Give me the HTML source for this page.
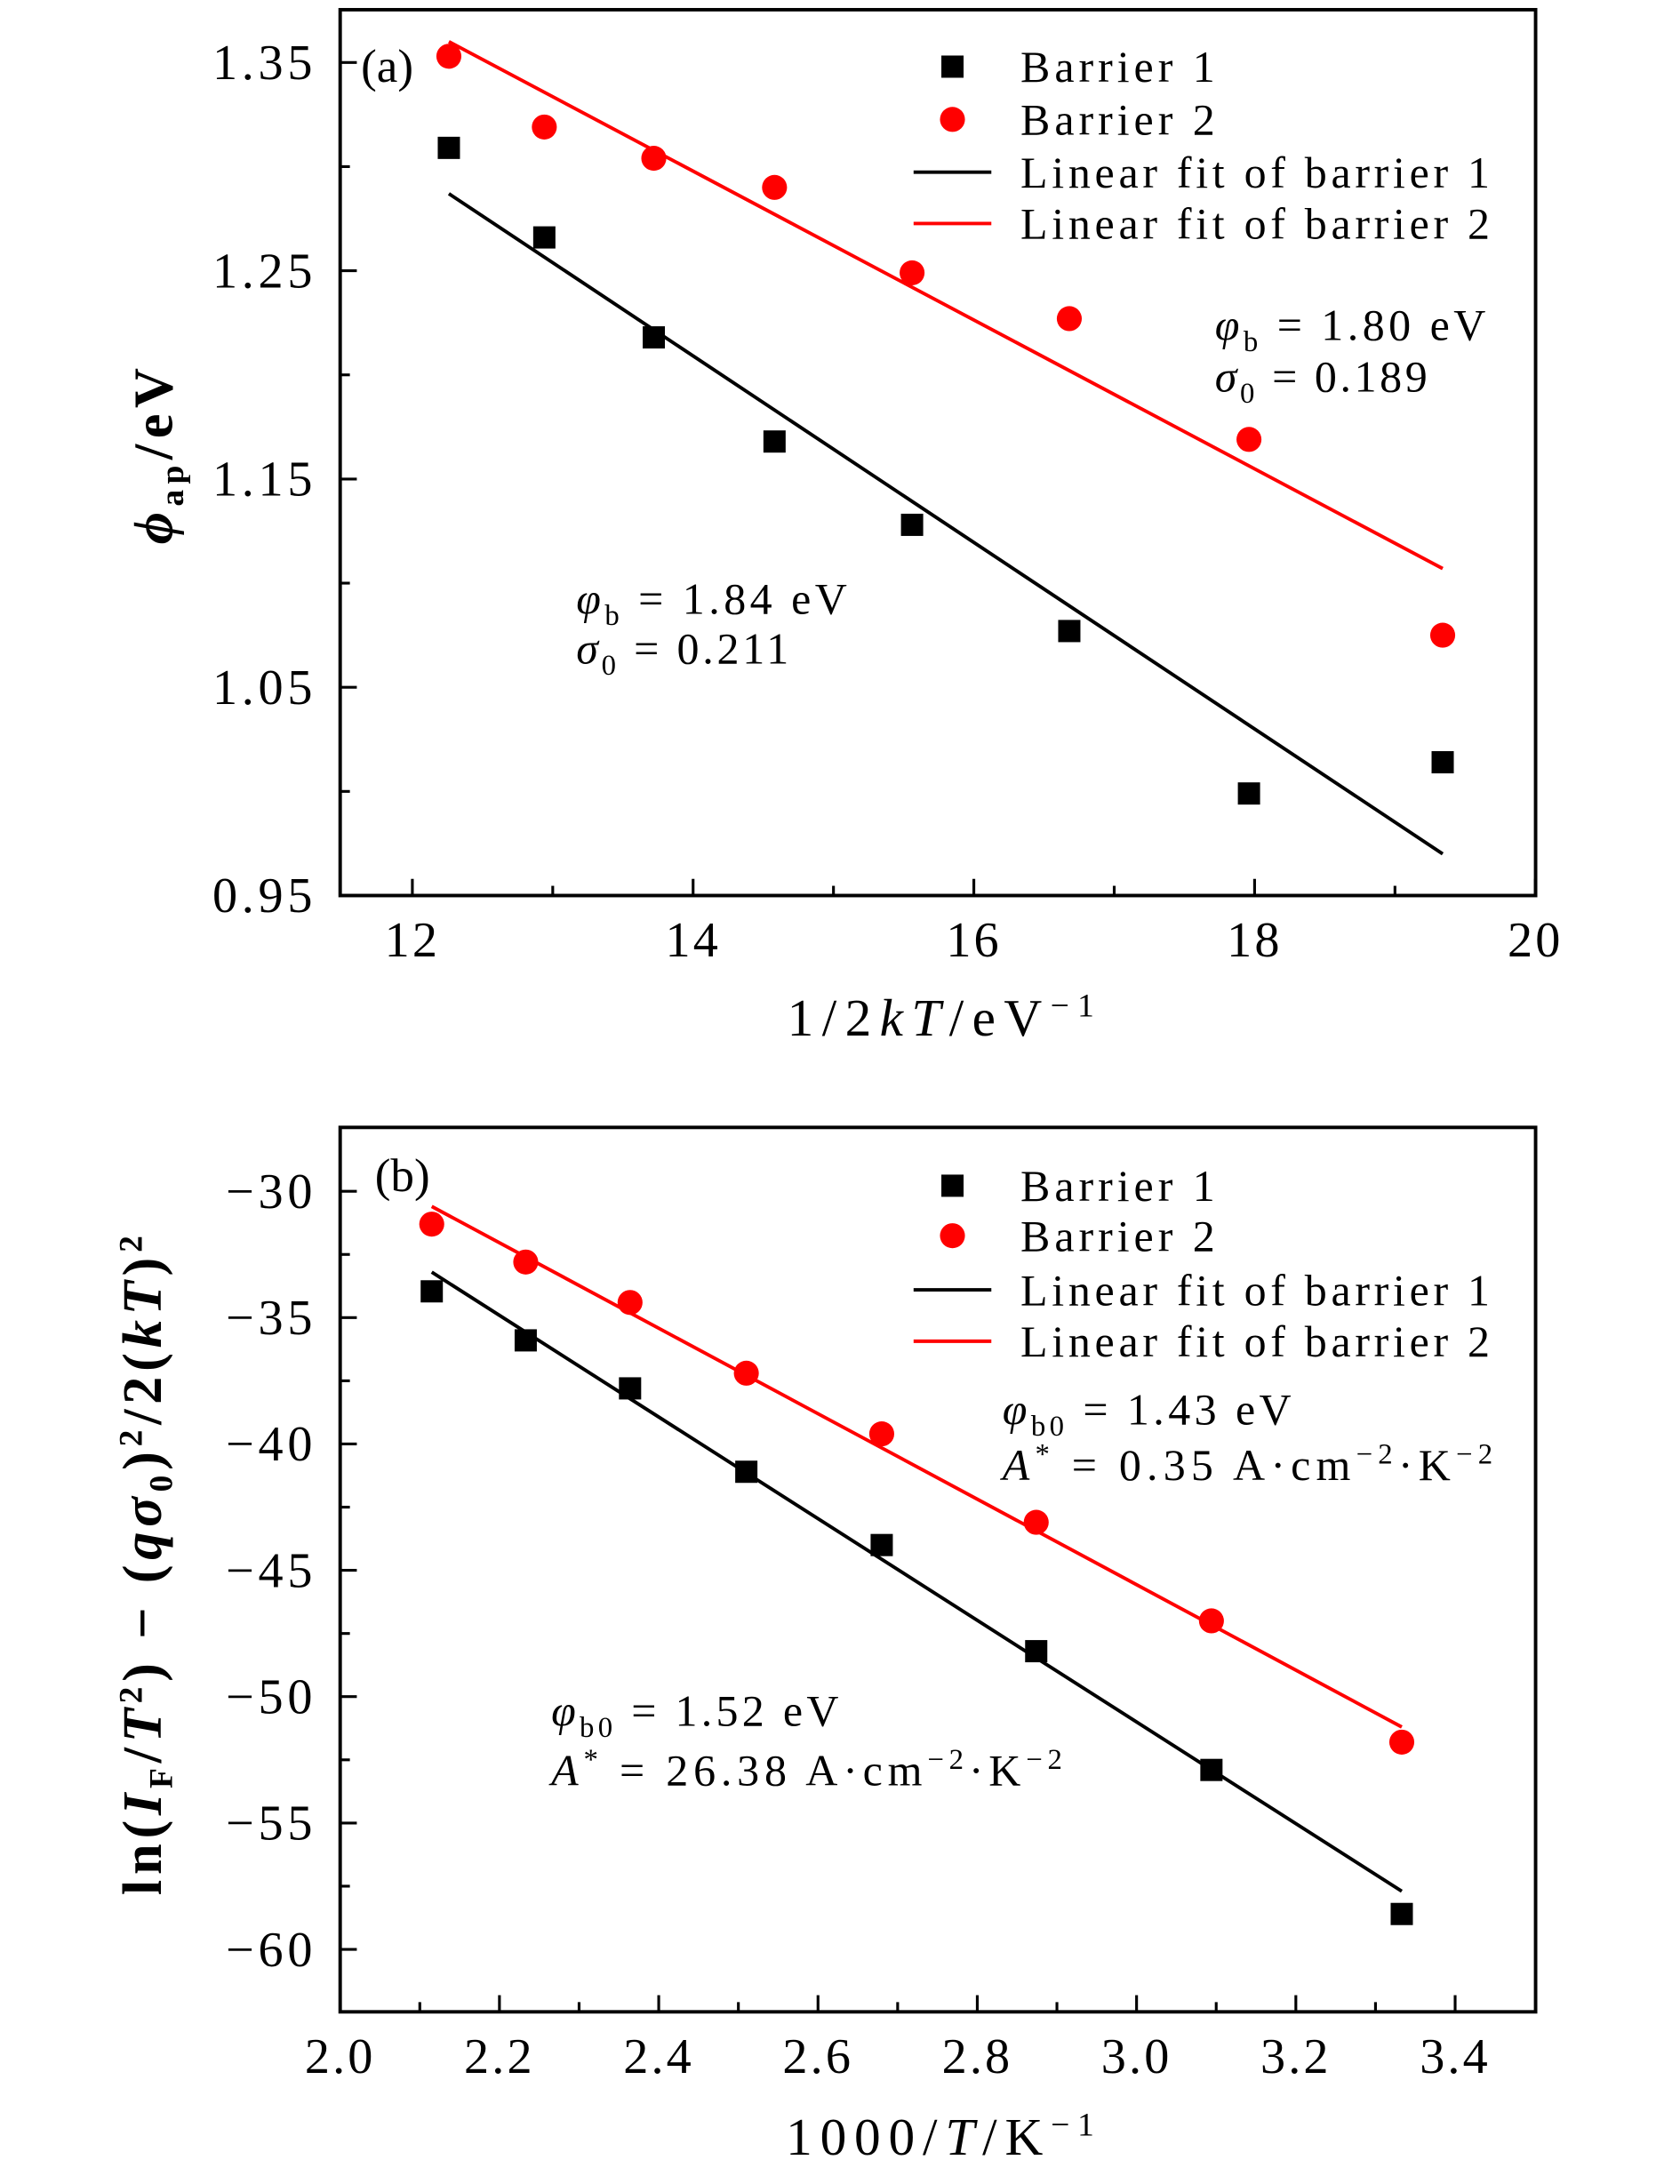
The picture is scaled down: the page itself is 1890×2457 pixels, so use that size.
<!DOCTYPE html>
<html><head><meta charset="utf-8"><style>
html,body{margin:0;padding:0;background:#fff;}
svg{display:block;}
text{font-family:"Liberation Serif","DejaVu Serif",serif;fill:#000;}
</style></head><body>
<svg id="fig" width="1890" height="2457" viewBox="0 0 1210 1573" xmlns="http://www.w3.org/2000/svg"></svg>
<script>
// ---- Panel (a) data ----
const aX = [12.26, 12.94, 13.72, 14.58, 15.56, 16.68, 17.96, 19.34];
const aB1 = [1.309, 1.266, 1.218, 1.168, 1.128, 1.077, 0.999, 1.014];
const aB2 = [1.353, 1.319, 1.304, 1.290, 1.249, 1.227, 1.169, 1.075];
const aFitX = [12.26, 19.34];
const aFit1 = [1.287, 0.970];
const aFit2 = [1.360, 1.107];
const aXTicks = [12, 14, 16, 18, 20];
const aXLabels = ["12", "14", "16", "18", "20"];
const aYTicks = [0.95, 1.05, 1.15, 1.25, 1.35];
const aYLabels = ["0.95", "1.05", "1.15", "1.25", "1.35"];
// ---- Panel (b) data ----
const bX = [2.115, 2.233, 2.364, 2.51, 2.68, 2.874, 3.094, 3.333];
const bB1 = [-33.96, -35.9, -37.8, -41.1, -44.0, -48.2, -52.9, -58.6];
const bB2 = [-31.3, -32.8, -34.4, -37.2, -39.6, -43.1, -47.0, -51.8];
const bFitX = [2.115, 3.333];
const bFit1 = [-33.2, -57.7];
const bFit2 = [-30.6, -51.2];
const bXTicks = [2.0, 2.2, 2.4, 2.6, 2.8, 3.0, 3.2, 3.4];
const bXLabels = ["2.0", "2.2", "2.4", "2.6", "2.8", "3.0", "3.2", "3.4"];
const bYTicks = [-30, -35, -40, -45, -50, -55, -60];
const bYLabels = ["\u221230", "\u221235", "\u221240", "\u221245", "\u221250", "\u221255", "\u221260"];

const NS = "http://www.w3.org/2000/svg";
const svg = document.getElementById("fig");
function el(tag, attrs, parent) {
  const e = document.createElementNS(NS, tag);
  for (const k in attrs) e.setAttribute(k, attrs[k]);
  (parent || svg).appendChild(e);
  return e;
}

function panel(cfg) {
  const g = el("g", {});
  
  
  const L = 245, R = 1106, T = cfg.top, B = cfg.bottom;
  const sx = v => cfg.x0px + (v - cfg.x0) * cfg.xs;
  const sy = v => cfg.y0px - (v - cfg.y0) * cfg.ys;
  const frame = el("rect", {x: L, y: T, width: R - L, height: B - T, fill: "none", stroke: "#000", "stroke-width": 2.5}, g);
  
  
  cfg.xTicks.forEach((v, i) => {
    const x = sx(v);
    el("line", {x1: x, y1: B, x2: x, y2: B - 12, stroke: "#000", "stroke-width": 2}, g);
    const t = el("text", {x: x, y: B + 44, "text-anchor": "middle", "font-size": 36, "letter-spacing": 2}, g);
    t.textContent = cfg.xLabels[i];
    
    
    if (i < cfg.xTicks.length - 1) {
      const m = sx((v + cfg.xTicks[i + 1]) / 2);
      el("line", {x1: m, y1: B, x2: m, y2: B - 7, stroke: "#000", "stroke-width": 2}, g);
    }
  });
  cfg.yTicks.forEach((v, i) => {
    const y = sy(v);
    el("line", {x1: L, y1: y, x2: L + 12, y2: y, stroke: "#000", "stroke-width": 2}, g);
    const t = el("text", {x: L - 17, y: y + 12, "text-anchor": "end", "font-size": 36, "letter-spacing": 3}, g);
    t.textContent = cfg.yLabels[i];
    
    
    if (i < cfg.yTicks.length - 1) {
      const m = sy((v + cfg.yTicks[i + 1]) / 2);
      el("line", {x1: L, y1: m, x2: L + 7, y2: m, stroke: "#000", "stroke-width": 2}, g);
    }
  });
  const f1 = el("line", {x1: sx(cfg.fitX[0]), y1: sy(cfg.fit1[0]), x2: sx(cfg.fitX[1]), y2: sy(cfg.fit1[1]), stroke: "#000", "stroke-width": 2.5}, g);
  
  
  const f2 = el("line", {x1: sx(cfg.fitX[0]), y1: sy(cfg.fit2[0]), x2: sx(cfg.fitX[1]), y2: sy(cfg.fit2[1]), stroke: "#f00", "stroke-width": 2.5}, g);
  
  
  cfg.xs_.forEach((v, i) => {
    const s = el("rect", {x: sx(v) - 8, y: sy(cfg.b1[i]) - 8, width: 16, height: 16, fill: "#000"}, g);
    
    
    const c = el("circle", {cx: sx(v), cy: sy(cfg.b2[i]), r: 9, fill: "#f00"}, g);
    
    
  });
  const lg = el("g", {}, g);
  
  
  const ly = cfg.legY;
  el("rect", {x: 678, y: ly[0] - 8, width: 16, height: 16, fill: "#000"}, lg);
  el("circle", {cx: 686, cy: ly[1], r: 9, fill: "#f00"}, lg);
  el("line", {x1: 658, y1: ly[2], x2: 714, y2: ly[2], stroke: "#000", "stroke-width": 2.5}, lg);
  el("line", {x1: 658, y1: ly[3], x2: 714, y2: ly[3], stroke: "#f00", "stroke-width": 2.5}, lg);
  const legLens = [140, 140, 338, 338];
  ["Barrier 1", "Barrier 2", "Linear fit of barrier 1", "Linear fit of barrier 2"].forEach((s, i) => {
    const t = el("text", {x: 735, y: ly[i] + 11, "font-size": 32, textLength: legLens[i], lengthAdjust: "spacing"}, lg);
    t.textContent = s;
    
    
  });
  return g;
}

panel({name: "panel-a", top: 7, bottom: 645, x0: 12, x0px: 297, xs: 101.1, y0: 1.35, y0px: 45, ys: 1500,
  xTicks: aXTicks, xLabels: aXLabels, yTicks: aYTicks, yLabels: aYLabels,
  fitX: aFitX, fit1: aFit1, fit2: aFit2, xs_: aX, b1: aB1, b2: aB2, legY: [48, 86, 124, 161]});
panel({name: "panel-b", top: 812, bottom: 1449, x0: 2.0, x0px: 245, xs: 573.6, y0: -30, y0px: 858, ys: 18.2,
  xTicks: bXTicks, xLabels: bXLabels, yTicks: bYTicks, yLabels: bYLabels,
  fitX: bFitX, fit1: bFit1, fit2: bFit2, xs_: bX, b1: bB1, b2: bB2, legY: [854, 890, 929, 966]});

function txt(html, attrs, name) {
  const t = el("text", attrs);
  t.innerHTML = html;
  
  
  return t;
}
const S = 'font-size="21"';
function ann(x, y, len) { return {x: x, y: y, "font-size": 32, textLength: len, lengthAdjust: "spacing"}; }
txt('(a)', {x: 260, y: 59, "font-size": 34}, 'panel-label-a');
txt('(b)', {x: 270, y: 858, "font-size": 34}, 'panel-label-b');
txt('<tspan font-style="italic">φ</tspan><tspan '+S+' dy="8">b</tspan><tspan dy="-8"> = 1.80 eV</tspan>', ann(875, 245, 195), 'annotation-barrier-2-phi');
txt('<tspan font-style="italic">σ</tspan><tspan '+S+' dy="8">0</tspan><tspan dy="-8"> = 0.189</tspan>', ann(875, 282, 153), 'annotation-barrier-2-sigma');
txt('<tspan font-style="italic">φ</tspan><tspan '+S+' dy="8">b</tspan><tspan dy="-8"> = 1.84 eV</tspan>', ann(415, 442, 195), 'annotation-barrier-1-phi');
txt('<tspan font-style="italic">σ</tspan><tspan '+S+' dy="8">0</tspan><tspan dy="-8"> = 0.211</tspan>', ann(415, 478, 153), 'annotation-barrier-1-sigma');
txt('<tspan font-style="italic">φ</tspan><tspan '+S+' dy="8">b0</tspan><tspan dy="-8"> = 1.43 eV</tspan>', ann(722, 1026, 208), 'annotation-b-barrier-2-phi');
txt('<tspan font-style="italic">A</tspan><tspan '+S+' dy="-12">*</tspan><tspan dy="12"> = 0.35 A·cm</tspan><tspan '+S+' dy="-12">−2</tspan><tspan dy="12">·K</tspan><tspan '+S+' dy="-12">−2</tspan>', ann(722, 1066, 353), 'annotation-b-barrier-2-A');
txt('<tspan font-style="italic">φ</tspan><tspan '+S+' dy="8">b0</tspan><tspan dy="-8"> = 1.52 eV</tspan>', ann(397, 1243, 207), 'annotation-b-barrier-1-phi');
txt('<tspan font-style="italic">A</tspan><tspan '+S+' dy="-12">*</tspan><tspan dy="12"> = 26.38 A·cm</tspan><tspan '+S+' dy="-12">−2</tspan><tspan dy="12">·K</tspan><tspan '+S+' dy="-12">−2</tspan>', ann(397, 1286, 368), 'annotation-b-barrier-1-A');
txt('1/2<tspan font-style="italic">kT</tspan>/eV<tspan font-size="24" dy="-14">−1</tspan>', {x: 567, y: 746, "font-size": 38, textLength: 221, lengthAdjust: "spacing"}, 'x-axis-title-a');
txt('1000/<tspan font-style="italic">T</tspan>/K<tspan font-size="24" dy="-14">−1</tspan>', {x: 566, y: 1552, "font-size": 38, textLength: 222, lengthAdjust: "spacing"}, 'x-axis-title-b');
txt('<tspan font-style="italic">ϕ</tspan><tspan font-size="24" dy="8">ap</tspan><tspan dy="-8">/eV</tspan>', {x: 0, y: 0, "font-size": 40, "font-weight": "bold", textLength: 127, lengthAdjust: "spacing", transform: "translate(124,392) rotate(-90)"}, 'y-axis-title-a');
txt('ln(<tspan font-style="italic">I</tspan><tspan font-size="24" dy="8">F</tspan><tspan dy="-8">/</tspan><tspan font-style="italic">T</tspan><tspan font-size="24" dy="-14">2</tspan><tspan dy="14">) − (</tspan><tspan font-style="italic">qσ</tspan><tspan font-size="24" dy="8">0</tspan><tspan dy="-8">)</tspan><tspan font-size="24" dy="-14">2</tspan><tspan dy="14">/2(</tspan><tspan font-style="italic">kT</tspan><tspan>)</tspan><tspan font-size="24" dy="-14">2</tspan>', {x: 0, y: 0, "font-size": 40, "font-weight": "bold", textLength: 475, lengthAdjust: "spacing", transform: "translate(116,1365) rotate(-90)"}, 'y-axis-title-b');
</script>
</body></html>
